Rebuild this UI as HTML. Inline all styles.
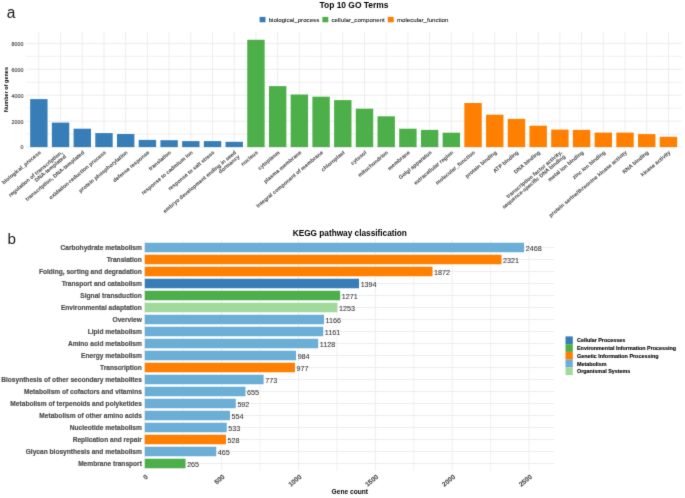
<!DOCTYPE html>
<html><head><meta charset="utf-8"><style>
html,body{margin:0;padding:0;background:#fff;}
svg{display:block;font-family:"Liberation Sans", sans-serif;}
#w{width:685px;height:498px;will-change:transform;}
</style></head><body><div id="w">
<svg width="685" height="498" viewBox="0 0 685 498">
<defs><filter id="bl" x="0" y="0" width="1" height="1" color-interpolation-filters="sRGB"><feConvolveMatrix order="3" kernelMatrix="0.01134 0.08382 0.01134 0.08382 0.61935 0.08382 0.01134 0.08382 0.01134" edgeMode="duplicate" preserveAlpha="true"/></filter></defs>
<g filter="url(#bl)">
<rect width="685" height="498" fill="#fff"/>
<text x="6.70" y="18.00" font-size="15.6" font-weight="normal" fill="#1a1a1a" text-anchor="start" >a</text>
<text x="354.00" y="8.30" font-size="8.45" font-weight="bold" fill="#000" text-anchor="middle" >Top 10 GO Terms</text>
<rect x="259.60" y="16.90" width="5.90" height="5.40" fill="#377eb8"/>
<text x="268.70" y="21.70" font-size="6.15" font-weight="normal" fill="#1a1a1a" text-anchor="start" stroke="#1a1a1a" stroke-width="0.1" >biological_process</text>
<rect x="322.40" y="16.90" width="5.90" height="5.40" fill="#4daf4a"/>
<text x="331.50" y="21.70" font-size="6.15" font-weight="normal" fill="#1a1a1a" text-anchor="start" stroke="#1a1a1a" stroke-width="0.1" >cellular_component</text>
<rect x="387.80" y="16.90" width="5.90" height="5.40" fill="#ff7f00"/>
<text x="396.90" y="21.70" font-size="6.15" font-weight="normal" fill="#1a1a1a" text-anchor="start" stroke="#1a1a1a" stroke-width="0.1" >molecular_function</text>
<line x1="25.80" y1="134.14" x2="681.50" y2="134.14" stroke="#eeeeee" stroke-width="0.8"/>
<line x1="25.80" y1="108.21" x2="681.50" y2="108.21" stroke="#eeeeee" stroke-width="0.8"/>
<line x1="25.80" y1="82.29" x2="681.50" y2="82.29" stroke="#eeeeee" stroke-width="0.8"/>
<line x1="25.80" y1="56.36" x2="681.50" y2="56.36" stroke="#eeeeee" stroke-width="0.8"/>
<line x1="25.80" y1="147.10" x2="681.50" y2="147.10" stroke="#ebebeb" stroke-width="0.9"/>
<line x1="25.80" y1="121.17" x2="681.50" y2="121.17" stroke="#ebebeb" stroke-width="0.9"/>
<line x1="25.80" y1="95.25" x2="681.50" y2="95.25" stroke="#ebebeb" stroke-width="0.9"/>
<line x1="25.80" y1="69.33" x2="681.50" y2="69.33" stroke="#ebebeb" stroke-width="0.9"/>
<line x1="25.80" y1="43.40" x2="681.50" y2="43.40" stroke="#ebebeb" stroke-width="0.9"/>
<line x1="38.85" y1="31.60" x2="38.85" y2="147.40" stroke="#ebebeb" stroke-width="0.9"/>
<line x1="60.56" y1="31.60" x2="60.56" y2="147.40" stroke="#ebebeb" stroke-width="0.9"/>
<line x1="82.27" y1="31.60" x2="82.27" y2="147.40" stroke="#ebebeb" stroke-width="0.9"/>
<line x1="103.98" y1="31.60" x2="103.98" y2="147.40" stroke="#ebebeb" stroke-width="0.9"/>
<line x1="125.69" y1="31.60" x2="125.69" y2="147.40" stroke="#ebebeb" stroke-width="0.9"/>
<line x1="147.40" y1="31.60" x2="147.40" y2="147.40" stroke="#ebebeb" stroke-width="0.9"/>
<line x1="169.11" y1="31.60" x2="169.11" y2="147.40" stroke="#ebebeb" stroke-width="0.9"/>
<line x1="190.82" y1="31.60" x2="190.82" y2="147.40" stroke="#ebebeb" stroke-width="0.9"/>
<line x1="212.53" y1="31.60" x2="212.53" y2="147.40" stroke="#ebebeb" stroke-width="0.9"/>
<line x1="234.24" y1="31.60" x2="234.24" y2="147.40" stroke="#ebebeb" stroke-width="0.9"/>
<line x1="255.95" y1="31.60" x2="255.95" y2="147.40" stroke="#ebebeb" stroke-width="0.9"/>
<line x1="277.66" y1="31.60" x2="277.66" y2="147.40" stroke="#ebebeb" stroke-width="0.9"/>
<line x1="299.37" y1="31.60" x2="299.37" y2="147.40" stroke="#ebebeb" stroke-width="0.9"/>
<line x1="321.08" y1="31.60" x2="321.08" y2="147.40" stroke="#ebebeb" stroke-width="0.9"/>
<line x1="342.79" y1="31.60" x2="342.79" y2="147.40" stroke="#ebebeb" stroke-width="0.9"/>
<line x1="364.50" y1="31.60" x2="364.50" y2="147.40" stroke="#ebebeb" stroke-width="0.9"/>
<line x1="386.21" y1="31.60" x2="386.21" y2="147.40" stroke="#ebebeb" stroke-width="0.9"/>
<line x1="407.92" y1="31.60" x2="407.92" y2="147.40" stroke="#ebebeb" stroke-width="0.9"/>
<line x1="429.63" y1="31.60" x2="429.63" y2="147.40" stroke="#ebebeb" stroke-width="0.9"/>
<line x1="451.34" y1="31.60" x2="451.34" y2="147.40" stroke="#ebebeb" stroke-width="0.9"/>
<line x1="473.05" y1="31.60" x2="473.05" y2="147.40" stroke="#ebebeb" stroke-width="0.9"/>
<line x1="494.76" y1="31.60" x2="494.76" y2="147.40" stroke="#ebebeb" stroke-width="0.9"/>
<line x1="516.47" y1="31.60" x2="516.47" y2="147.40" stroke="#ebebeb" stroke-width="0.9"/>
<line x1="538.18" y1="31.60" x2="538.18" y2="147.40" stroke="#ebebeb" stroke-width="0.9"/>
<line x1="559.89" y1="31.60" x2="559.89" y2="147.40" stroke="#ebebeb" stroke-width="0.9"/>
<line x1="581.60" y1="31.60" x2="581.60" y2="147.40" stroke="#ebebeb" stroke-width="0.9"/>
<line x1="603.31" y1="31.60" x2="603.31" y2="147.40" stroke="#ebebeb" stroke-width="0.9"/>
<line x1="625.02" y1="31.60" x2="625.02" y2="147.40" stroke="#ebebeb" stroke-width="0.9"/>
<line x1="646.73" y1="31.60" x2="646.73" y2="147.40" stroke="#ebebeb" stroke-width="0.9"/>
<line x1="668.44" y1="31.60" x2="668.44" y2="147.40" stroke="#ebebeb" stroke-width="0.9"/>
<text x="23.40" y="149.45" font-size="5.3" font-weight="normal" fill="#4d4d4d" text-anchor="end" stroke="#4d4d4d" stroke-width="0.15" >0</text>
<text x="23.40" y="123.52" font-size="5.3" font-weight="normal" fill="#4d4d4d" text-anchor="end" stroke="#4d4d4d" stroke-width="0.15" >2000</text>
<text x="23.40" y="97.60" font-size="5.3" font-weight="normal" fill="#4d4d4d" text-anchor="end" stroke="#4d4d4d" stroke-width="0.15" >4000</text>
<text x="23.40" y="71.67" font-size="5.3" font-weight="normal" fill="#4d4d4d" text-anchor="end" stroke="#4d4d4d" stroke-width="0.15" >6000</text>
<text x="23.40" y="45.75" font-size="5.3" font-weight="normal" fill="#4d4d4d" text-anchor="end" stroke="#4d4d4d" stroke-width="0.15" >8000</text>
<text x="0.00" y="0.00" font-size="5.5" font-weight="bold" fill="#000" text-anchor="middle" transform="translate(7.6,89.5) rotate(-90)">Number of genes</text>
<rect x="30.15" y="99.10" width="17.40" height="48.00" fill="#377eb8"/>
<rect x="51.86" y="122.60" width="17.40" height="24.50" fill="#377eb8"/>
<rect x="73.57" y="128.70" width="17.40" height="18.40" fill="#377eb8"/>
<rect x="95.28" y="133.10" width="17.40" height="14.00" fill="#377eb8"/>
<rect x="116.99" y="134.00" width="17.40" height="13.10" fill="#377eb8"/>
<rect x="138.70" y="139.90" width="17.40" height="7.20" fill="#377eb8"/>
<rect x="160.41" y="140.20" width="17.40" height="6.90" fill="#377eb8"/>
<rect x="182.12" y="141.10" width="17.40" height="6.00" fill="#377eb8"/>
<rect x="203.83" y="141.10" width="17.40" height="6.00" fill="#377eb8"/>
<rect x="225.54" y="141.80" width="17.40" height="5.30" fill="#377eb8"/>
<rect x="247.25" y="39.80" width="17.40" height="107.30" fill="#4daf4a"/>
<rect x="268.96" y="86.10" width="17.40" height="61.00" fill="#4daf4a"/>
<rect x="290.67" y="94.50" width="17.40" height="52.60" fill="#4daf4a"/>
<rect x="312.38" y="96.70" width="17.40" height="50.40" fill="#4daf4a"/>
<rect x="334.09" y="100.10" width="17.40" height="47.00" fill="#4daf4a"/>
<rect x="355.80" y="108.70" width="17.40" height="38.40" fill="#4daf4a"/>
<rect x="377.51" y="116.30" width="17.40" height="30.80" fill="#4daf4a"/>
<rect x="399.22" y="128.70" width="17.40" height="18.40" fill="#4daf4a"/>
<rect x="420.93" y="129.90" width="17.40" height="17.20" fill="#4daf4a"/>
<rect x="442.64" y="132.70" width="17.40" height="14.40" fill="#4daf4a"/>
<rect x="464.35" y="103.00" width="17.40" height="44.10" fill="#ff7f00"/>
<rect x="486.06" y="114.70" width="17.40" height="32.40" fill="#ff7f00"/>
<rect x="507.77" y="118.90" width="17.40" height="28.20" fill="#ff7f00"/>
<rect x="529.48" y="125.70" width="17.40" height="21.40" fill="#ff7f00"/>
<rect x="551.19" y="129.60" width="17.40" height="17.50" fill="#ff7f00"/>
<rect x="572.90" y="129.90" width="17.40" height="17.20" fill="#ff7f00"/>
<rect x="594.61" y="132.60" width="17.40" height="14.50" fill="#ff7f00"/>
<rect x="616.32" y="132.60" width="17.40" height="14.50" fill="#ff7f00"/>
<rect x="638.03" y="134.10" width="17.40" height="13.00" fill="#ff7f00"/>
<rect x="659.74" y="136.80" width="17.40" height="10.30" fill="#ff7f00"/>
<text x="0.00" y="0.00" font-size="5.4" font-weight="bold" fill="#4d4d4d" text-anchor="end" stroke="#4d4d4d" stroke-width="0.06" transform="translate(41.25,153.10) rotate(-40) translate(0,0.00)">biological_process</text>
<text x="0.00" y="0.00" font-size="5.4" font-weight="bold" fill="#4d4d4d" text-anchor="end" stroke="#4d4d4d" stroke-width="0.06" transform="translate(62.96,153.10) rotate(-40) translate(0,0.00)">regulation of transcription,</text>
<text x="0.00" y="0.00" font-size="5.4" font-weight="bold" fill="#4d4d4d" text-anchor="end" stroke="#4d4d4d" stroke-width="0.06" transform="translate(62.96,153.10) rotate(-40) translate(0,5.40)">DNA-templated</text>
<text x="0.00" y="0.00" font-size="5.4" font-weight="bold" fill="#4d4d4d" text-anchor="end" stroke="#4d4d4d" stroke-width="0.06" transform="translate(84.67,153.10) rotate(-40) translate(0,0.00)">transcription, DNA-templated</text>
<text x="0.00" y="0.00" font-size="5.4" font-weight="bold" fill="#4d4d4d" text-anchor="end" stroke="#4d4d4d" stroke-width="0.06" transform="translate(106.38,153.10) rotate(-40) translate(0,0.00)">oxidation-reduction process</text>
<text x="0.00" y="0.00" font-size="5.4" font-weight="bold" fill="#4d4d4d" text-anchor="end" stroke="#4d4d4d" stroke-width="0.06" transform="translate(128.09,153.10) rotate(-40) translate(0,0.00)">protein phosphorylation</text>
<text x="0.00" y="0.00" font-size="5.4" font-weight="bold" fill="#4d4d4d" text-anchor="end" stroke="#4d4d4d" stroke-width="0.06" transform="translate(149.80,153.10) rotate(-40) translate(0,0.00)">defense response</text>
<text x="0.00" y="0.00" font-size="5.4" font-weight="bold" fill="#4d4d4d" text-anchor="end" stroke="#4d4d4d" stroke-width="0.06" transform="translate(171.51,153.10) rotate(-40) translate(0,0.00)">translation</text>
<text x="0.00" y="0.00" font-size="5.4" font-weight="bold" fill="#4d4d4d" text-anchor="end" stroke="#4d4d4d" stroke-width="0.06" transform="translate(193.22,153.10) rotate(-40) translate(0,0.00)">response to cadmium ion</text>
<text x="0.00" y="0.00" font-size="5.4" font-weight="bold" fill="#4d4d4d" text-anchor="end" stroke="#4d4d4d" stroke-width="0.06" transform="translate(214.93,153.10) rotate(-40) translate(0,0.00)">response to salt stress</text>
<text x="0.00" y="0.00" font-size="5.4" font-weight="bold" fill="#4d4d4d" text-anchor="end" stroke="#4d4d4d" stroke-width="0.06" transform="translate(236.64,153.10) rotate(-40) translate(0,0.00)">embryo development ending in seed</text>
<text x="0.00" y="0.00" font-size="5.4" font-weight="bold" fill="#4d4d4d" text-anchor="end" stroke="#4d4d4d" stroke-width="0.06" transform="translate(236.64,153.10) rotate(-40) translate(0,5.40)">dormancy</text>
<text x="0.00" y="0.00" font-size="5.4" font-weight="bold" fill="#4d4d4d" text-anchor="end" stroke="#4d4d4d" stroke-width="0.06" transform="translate(258.35,153.10) rotate(-40) translate(0,0.00)">nucleus</text>
<text x="0.00" y="0.00" font-size="5.4" font-weight="bold" fill="#4d4d4d" text-anchor="end" stroke="#4d4d4d" stroke-width="0.06" transform="translate(280.06,153.10) rotate(-40) translate(0,0.00)">cytoplasm</text>
<text x="0.00" y="0.00" font-size="5.4" font-weight="bold" fill="#4d4d4d" text-anchor="end" stroke="#4d4d4d" stroke-width="0.06" transform="translate(301.77,153.10) rotate(-40) translate(0,0.00)">plasma membrane</text>
<text x="0.00" y="0.00" font-size="5.4" font-weight="bold" fill="#4d4d4d" text-anchor="end" stroke="#4d4d4d" stroke-width="0.06" transform="translate(323.48,153.10) rotate(-40) translate(0,0.00)">integral component of membrane</text>
<text x="0.00" y="0.00" font-size="5.4" font-weight="bold" fill="#4d4d4d" text-anchor="end" stroke="#4d4d4d" stroke-width="0.06" transform="translate(345.19,153.10) rotate(-40) translate(0,0.00)">chloroplast</text>
<text x="0.00" y="0.00" font-size="5.4" font-weight="bold" fill="#4d4d4d" text-anchor="end" stroke="#4d4d4d" stroke-width="0.06" transform="translate(366.90,153.10) rotate(-40) translate(0,0.00)">cytosol</text>
<text x="0.00" y="0.00" font-size="5.4" font-weight="bold" fill="#4d4d4d" text-anchor="end" stroke="#4d4d4d" stroke-width="0.06" transform="translate(388.61,153.10) rotate(-40) translate(0,0.00)">mitochondrion</text>
<text x="0.00" y="0.00" font-size="5.4" font-weight="bold" fill="#4d4d4d" text-anchor="end" stroke="#4d4d4d" stroke-width="0.06" transform="translate(410.32,153.10) rotate(-40) translate(0,0.00)">membrane</text>
<text x="0.00" y="0.00" font-size="5.4" font-weight="bold" fill="#4d4d4d" text-anchor="end" stroke="#4d4d4d" stroke-width="0.06" transform="translate(432.03,153.10) rotate(-40) translate(0,0.00)">Golgi apparatus</text>
<text x="0.00" y="0.00" font-size="5.4" font-weight="bold" fill="#4d4d4d" text-anchor="end" stroke="#4d4d4d" stroke-width="0.06" transform="translate(453.74,153.10) rotate(-40) translate(0,0.00)">extracellular region</text>
<text x="0.00" y="0.00" font-size="5.4" font-weight="bold" fill="#4d4d4d" text-anchor="end" stroke="#4d4d4d" stroke-width="0.06" transform="translate(475.45,153.10) rotate(-40) translate(0,0.00)">molecular_function</text>
<text x="0.00" y="0.00" font-size="5.4" font-weight="bold" fill="#4d4d4d" text-anchor="end" stroke="#4d4d4d" stroke-width="0.06" transform="translate(497.16,153.10) rotate(-40) translate(0,0.00)">protein binding</text>
<text x="0.00" y="0.00" font-size="5.4" font-weight="bold" fill="#4d4d4d" text-anchor="end" stroke="#4d4d4d" stroke-width="0.06" transform="translate(518.87,153.10) rotate(-40) translate(0,0.00)">ATP binding</text>
<text x="0.00" y="0.00" font-size="5.4" font-weight="bold" fill="#4d4d4d" text-anchor="end" stroke="#4d4d4d" stroke-width="0.06" transform="translate(540.58,153.10) rotate(-40) translate(0,0.00)">DNA binding</text>
<text x="0.00" y="0.00" font-size="5.4" font-weight="bold" fill="#4d4d4d" text-anchor="end" stroke="#4d4d4d" stroke-width="0.06" transform="translate(562.29,153.10) rotate(-40) translate(0,0.00)">transcription factor activity,</text>
<text x="0.00" y="0.00" font-size="5.4" font-weight="bold" fill="#4d4d4d" text-anchor="end" stroke="#4d4d4d" stroke-width="0.06" transform="translate(562.29,153.10) rotate(-40) translate(0,5.40)">sequence-specific DNA binding</text>
<text x="0.00" y="0.00" font-size="5.4" font-weight="bold" fill="#4d4d4d" text-anchor="end" stroke="#4d4d4d" stroke-width="0.06" transform="translate(584.00,153.10) rotate(-40) translate(0,0.00)">metal ion binding</text>
<text x="0.00" y="0.00" font-size="5.4" font-weight="bold" fill="#4d4d4d" text-anchor="end" stroke="#4d4d4d" stroke-width="0.06" transform="translate(605.71,153.10) rotate(-40) translate(0,0.00)">zinc ion binding</text>
<text x="0.00" y="0.00" font-size="5.4" font-weight="bold" fill="#4d4d4d" text-anchor="end" stroke="#4d4d4d" stroke-width="0.06" transform="translate(627.42,153.10) rotate(-40) translate(0,0.00)">protein serine/threonine kinase activity</text>
<text x="0.00" y="0.00" font-size="5.4" font-weight="bold" fill="#4d4d4d" text-anchor="end" stroke="#4d4d4d" stroke-width="0.06" transform="translate(649.13,153.10) rotate(-40) translate(0,0.00)">RNA binding</text>
<text x="0.00" y="0.00" font-size="5.4" font-weight="bold" fill="#4d4d4d" text-anchor="end" stroke="#4d4d4d" stroke-width="0.06" transform="translate(670.84,153.10) rotate(-40) translate(0,0.00)">kinase activity</text>
<text x="7.40" y="244.40" font-size="15.2" font-weight="normal" fill="#1a1a1a" text-anchor="start" >b</text>
<text x="349.80" y="235.90" font-size="8.25" font-weight="bold" fill="#000" text-anchor="middle" >KEGG pathway classification</text>
<line x1="183.22" y1="240.30" x2="183.22" y2="470.70" stroke="#eeeeee" stroke-width="0.8"/>
<line x1="260.07" y1="240.30" x2="260.07" y2="470.70" stroke="#eeeeee" stroke-width="0.8"/>
<line x1="336.91" y1="240.30" x2="336.91" y2="470.70" stroke="#eeeeee" stroke-width="0.8"/>
<line x1="413.76" y1="240.30" x2="413.76" y2="470.70" stroke="#eeeeee" stroke-width="0.8"/>
<line x1="490.60" y1="240.30" x2="490.60" y2="470.70" stroke="#eeeeee" stroke-width="0.8"/>
<line x1="144.80" y1="240.30" x2="144.80" y2="470.70" stroke="#ebebeb" stroke-width="0.9"/>
<line x1="221.65" y1="240.30" x2="221.65" y2="470.70" stroke="#ebebeb" stroke-width="0.9"/>
<line x1="298.49" y1="240.30" x2="298.49" y2="470.70" stroke="#ebebeb" stroke-width="0.9"/>
<line x1="375.34" y1="240.30" x2="375.34" y2="470.70" stroke="#ebebeb" stroke-width="0.9"/>
<line x1="452.18" y1="240.30" x2="452.18" y2="470.70" stroke="#ebebeb" stroke-width="0.9"/>
<line x1="529.02" y1="240.30" x2="529.02" y2="470.70" stroke="#ebebeb" stroke-width="0.9"/>
<line x1="144.80" y1="247.50" x2="554.20" y2="247.50" stroke="#ebebeb" stroke-width="0.9"/>
<line x1="144.80" y1="259.50" x2="554.20" y2="259.50" stroke="#ebebeb" stroke-width="0.9"/>
<line x1="144.80" y1="271.50" x2="554.20" y2="271.50" stroke="#ebebeb" stroke-width="0.9"/>
<line x1="144.80" y1="283.50" x2="554.20" y2="283.50" stroke="#ebebeb" stroke-width="0.9"/>
<line x1="144.80" y1="295.50" x2="554.20" y2="295.50" stroke="#ebebeb" stroke-width="0.9"/>
<line x1="144.80" y1="307.50" x2="554.20" y2="307.50" stroke="#ebebeb" stroke-width="0.9"/>
<line x1="144.80" y1="319.50" x2="554.20" y2="319.50" stroke="#ebebeb" stroke-width="0.9"/>
<line x1="144.80" y1="331.50" x2="554.20" y2="331.50" stroke="#ebebeb" stroke-width="0.9"/>
<line x1="144.80" y1="343.50" x2="554.20" y2="343.50" stroke="#ebebeb" stroke-width="0.9"/>
<line x1="144.80" y1="355.50" x2="554.20" y2="355.50" stroke="#ebebeb" stroke-width="0.9"/>
<line x1="144.80" y1="367.50" x2="554.20" y2="367.50" stroke="#ebebeb" stroke-width="0.9"/>
<line x1="144.80" y1="379.50" x2="554.20" y2="379.50" stroke="#ebebeb" stroke-width="0.9"/>
<line x1="144.80" y1="391.50" x2="554.20" y2="391.50" stroke="#ebebeb" stroke-width="0.9"/>
<line x1="144.80" y1="403.50" x2="554.20" y2="403.50" stroke="#ebebeb" stroke-width="0.9"/>
<line x1="144.80" y1="415.50" x2="554.20" y2="415.50" stroke="#ebebeb" stroke-width="0.9"/>
<line x1="144.80" y1="427.50" x2="554.20" y2="427.50" stroke="#ebebeb" stroke-width="0.9"/>
<line x1="144.80" y1="439.50" x2="554.20" y2="439.50" stroke="#ebebeb" stroke-width="0.9"/>
<line x1="144.80" y1="451.50" x2="554.20" y2="451.50" stroke="#ebebeb" stroke-width="0.9"/>
<line x1="144.80" y1="463.50" x2="554.20" y2="463.50" stroke="#ebebeb" stroke-width="0.9"/>
<rect x="144.80" y="242.75" width="379.31" height="9.50" fill="#6baed6"/>
<text x="525.71" y="250.60" font-size="7.2" font-weight="normal" fill="#333333" text-anchor="start" stroke="#333333" stroke-width="0.05" >2468</text>
<text x="141.90" y="249.80" font-size="6.6" font-weight="bold" fill="#4d4d4d" text-anchor="end" stroke="#4d4d4d" stroke-width="0.18" >Carbohydrate metabolism</text>
<rect x="144.80" y="254.75" width="356.71" height="9.50" fill="#ff7f00"/>
<text x="503.11" y="262.60" font-size="7.2" font-weight="normal" fill="#333333" text-anchor="start" stroke="#333333" stroke-width="0.05" >2321</text>
<text x="141.90" y="261.80" font-size="6.6" font-weight="bold" fill="#4d4d4d" text-anchor="end" stroke="#4d4d4d" stroke-width="0.18" >Translation</text>
<rect x="144.80" y="266.75" width="287.71" height="9.50" fill="#ff7f00"/>
<text x="434.11" y="274.60" font-size="7.2" font-weight="normal" fill="#333333" text-anchor="start" stroke="#333333" stroke-width="0.05" >1872</text>
<text x="141.90" y="273.80" font-size="6.6" font-weight="bold" fill="#4d4d4d" text-anchor="end" stroke="#4d4d4d" stroke-width="0.18" >Folding, sorting and degradation</text>
<rect x="144.80" y="278.75" width="214.24" height="9.50" fill="#377eb8"/>
<text x="360.64" y="286.60" font-size="7.2" font-weight="normal" fill="#333333" text-anchor="start" stroke="#333333" stroke-width="0.05" >1394</text>
<text x="141.90" y="285.80" font-size="6.6" font-weight="bold" fill="#4d4d4d" text-anchor="end" stroke="#4d4d4d" stroke-width="0.18" >Transport and catabolism</text>
<rect x="144.80" y="290.75" width="195.34" height="9.50" fill="#4daf4a"/>
<text x="341.74" y="298.60" font-size="7.2" font-weight="normal" fill="#333333" text-anchor="start" stroke="#333333" stroke-width="0.05" >1271</text>
<text x="141.90" y="297.80" font-size="6.6" font-weight="bold" fill="#4d4d4d" text-anchor="end" stroke="#4d4d4d" stroke-width="0.18" >Signal transduction</text>
<rect x="144.80" y="302.75" width="192.57" height="9.50" fill="#a1d99b"/>
<text x="338.97" y="310.60" font-size="7.2" font-weight="normal" fill="#333333" text-anchor="start" stroke="#333333" stroke-width="0.05" >1253</text>
<text x="141.90" y="309.80" font-size="6.6" font-weight="bold" fill="#4d4d4d" text-anchor="end" stroke="#4d4d4d" stroke-width="0.18" >Environmental adaptation</text>
<rect x="144.80" y="314.75" width="179.20" height="9.50" fill="#6baed6"/>
<text x="325.60" y="322.60" font-size="7.2" font-weight="normal" fill="#333333" text-anchor="start" stroke="#333333" stroke-width="0.05" >1166</text>
<text x="141.90" y="321.80" font-size="6.6" font-weight="bold" fill="#4d4d4d" text-anchor="end" stroke="#4d4d4d" stroke-width="0.18" >Overview</text>
<rect x="144.80" y="326.75" width="178.43" height="9.50" fill="#6baed6"/>
<text x="324.83" y="334.60" font-size="7.2" font-weight="normal" fill="#333333" text-anchor="start" stroke="#333333" stroke-width="0.05" >1161</text>
<text x="141.90" y="333.80" font-size="6.6" font-weight="bold" fill="#4d4d4d" text-anchor="end" stroke="#4d4d4d" stroke-width="0.18" >Lipid metabolism</text>
<rect x="144.80" y="338.75" width="173.36" height="9.50" fill="#6baed6"/>
<text x="319.76" y="346.60" font-size="7.2" font-weight="normal" fill="#333333" text-anchor="start" stroke="#333333" stroke-width="0.05" >1128</text>
<text x="141.90" y="345.80" font-size="6.6" font-weight="bold" fill="#4d4d4d" text-anchor="end" stroke="#4d4d4d" stroke-width="0.18" >Amino acid metabolism</text>
<rect x="144.80" y="350.75" width="151.23" height="9.50" fill="#6baed6"/>
<text x="297.63" y="358.60" font-size="7.2" font-weight="normal" fill="#333333" text-anchor="start" stroke="#333333" stroke-width="0.05" >984</text>
<text x="141.90" y="357.80" font-size="6.6" font-weight="bold" fill="#4d4d4d" text-anchor="end" stroke="#4d4d4d" stroke-width="0.18" >Energy metabolism</text>
<rect x="144.80" y="362.75" width="150.16" height="9.50" fill="#ff7f00"/>
<text x="296.56" y="370.60" font-size="7.2" font-weight="normal" fill="#333333" text-anchor="start" stroke="#333333" stroke-width="0.05" >977</text>
<text x="141.90" y="369.80" font-size="6.6" font-weight="bold" fill="#4d4d4d" text-anchor="end" stroke="#4d4d4d" stroke-width="0.18" >Transcription</text>
<rect x="144.80" y="374.75" width="118.80" height="9.50" fill="#6baed6"/>
<text x="265.20" y="382.60" font-size="7.2" font-weight="normal" fill="#333333" text-anchor="start" stroke="#333333" stroke-width="0.05" >773</text>
<text x="141.90" y="381.80" font-size="6.6" font-weight="bold" fill="#4d4d4d" text-anchor="end" stroke="#4d4d4d" stroke-width="0.18" >Biosynthesis of other secondary metabolites</text>
<rect x="144.80" y="386.75" width="100.67" height="9.50" fill="#6baed6"/>
<text x="247.07" y="394.60" font-size="7.2" font-weight="normal" fill="#333333" text-anchor="start" stroke="#333333" stroke-width="0.05" >655</text>
<text x="141.90" y="393.80" font-size="6.6" font-weight="bold" fill="#4d4d4d" text-anchor="end" stroke="#4d4d4d" stroke-width="0.18" >Metabolism of cofactors and vitamins</text>
<rect x="144.80" y="398.75" width="90.98" height="9.50" fill="#6baed6"/>
<text x="237.38" y="406.60" font-size="7.2" font-weight="normal" fill="#333333" text-anchor="start" stroke="#333333" stroke-width="0.05" >592</text>
<text x="141.90" y="405.80" font-size="6.6" font-weight="bold" fill="#4d4d4d" text-anchor="end" stroke="#4d4d4d" stroke-width="0.18" >Metabolism of terpenoids and polyketides</text>
<rect x="144.80" y="410.75" width="85.14" height="9.50" fill="#6baed6"/>
<text x="231.54" y="418.60" font-size="7.2" font-weight="normal" fill="#333333" text-anchor="start" stroke="#333333" stroke-width="0.05" >554</text>
<text x="141.90" y="417.80" font-size="6.6" font-weight="bold" fill="#4d4d4d" text-anchor="end" stroke="#4d4d4d" stroke-width="0.18" >Metabolism of other amino acids</text>
<rect x="144.80" y="422.75" width="81.92" height="9.50" fill="#6baed6"/>
<text x="228.32" y="430.60" font-size="7.2" font-weight="normal" fill="#333333" text-anchor="start" stroke="#333333" stroke-width="0.05" >533</text>
<text x="141.90" y="429.80" font-size="6.6" font-weight="bold" fill="#4d4d4d" text-anchor="end" stroke="#4d4d4d" stroke-width="0.18" >Nucleotide metabolism</text>
<rect x="144.80" y="434.75" width="81.15" height="9.50" fill="#ff7f00"/>
<text x="227.55" y="442.60" font-size="7.2" font-weight="normal" fill="#333333" text-anchor="start" stroke="#333333" stroke-width="0.05" >528</text>
<text x="141.90" y="441.80" font-size="6.6" font-weight="bold" fill="#4d4d4d" text-anchor="end" stroke="#4d4d4d" stroke-width="0.18" >Replication and repair</text>
<rect x="144.80" y="446.75" width="71.47" height="9.50" fill="#6baed6"/>
<text x="217.87" y="454.60" font-size="7.2" font-weight="normal" fill="#333333" text-anchor="start" stroke="#333333" stroke-width="0.05" >465</text>
<text x="141.90" y="453.80" font-size="6.6" font-weight="bold" fill="#4d4d4d" text-anchor="end" stroke="#4d4d4d" stroke-width="0.18" >Glycan biosynthesis and metabolism</text>
<rect x="144.80" y="458.75" width="40.73" height="9.50" fill="#4daf4a"/>
<text x="187.13" y="466.60" font-size="7.2" font-weight="normal" fill="#333333" text-anchor="start" stroke="#333333" stroke-width="0.05" >265</text>
<text x="141.90" y="465.80" font-size="6.6" font-weight="bold" fill="#4d4d4d" text-anchor="end" stroke="#4d4d4d" stroke-width="0.18" >Membrane transport</text>
<text x="0.00" y="0.00" font-size="6.7" font-weight="bold" fill="#4d4d4d" text-anchor="end" stroke="#4d4d4d" stroke-width="0.15" transform="translate(145.40,474.00) rotate(-40) translate(0,4.6)">0</text>
<text x="0.00" y="0.00" font-size="6.7" font-weight="bold" fill="#4d4d4d" text-anchor="end" stroke="#4d4d4d" stroke-width="0.15" transform="translate(222.25,474.00) rotate(-40) translate(0,4.6)">500</text>
<text x="0.00" y="0.00" font-size="6.7" font-weight="bold" fill="#4d4d4d" text-anchor="end" stroke="#4d4d4d" stroke-width="0.15" transform="translate(299.09,474.00) rotate(-40) translate(0,4.6)">1000</text>
<text x="0.00" y="0.00" font-size="6.7" font-weight="bold" fill="#4d4d4d" text-anchor="end" stroke="#4d4d4d" stroke-width="0.15" transform="translate(375.94,474.00) rotate(-40) translate(0,4.6)">1500</text>
<text x="0.00" y="0.00" font-size="6.7" font-weight="bold" fill="#4d4d4d" text-anchor="end" stroke="#4d4d4d" stroke-width="0.15" transform="translate(452.78,474.00) rotate(-40) translate(0,4.6)">2000</text>
<text x="0.00" y="0.00" font-size="6.7" font-weight="bold" fill="#4d4d4d" text-anchor="end" stroke="#4d4d4d" stroke-width="0.15" transform="translate(529.62,474.00) rotate(-40) translate(0,4.6)">2500</text>
<text x="349.80" y="493.70" font-size="6.65" font-weight="bold" fill="#000" text-anchor="middle" >Gene count</text>
<rect x="565.50" y="336.40" width="7.30" height="7.74" fill="#377eb8"/>
<text x="577.00" y="342.30" font-size="5.4" font-weight="bold" fill="#000" text-anchor="start" stroke="#000" stroke-width="0.12" >Cellular Processes</text>
<rect x="565.50" y="344.14" width="7.30" height="7.74" fill="#4daf4a"/>
<text x="577.00" y="350.04" font-size="5.4" font-weight="bold" fill="#000" text-anchor="start" stroke="#000" stroke-width="0.12" >Environmental Information Processing</text>
<rect x="565.50" y="351.88" width="7.30" height="7.74" fill="#ff7f00"/>
<text x="577.00" y="357.78" font-size="5.4" font-weight="bold" fill="#000" text-anchor="start" stroke="#000" stroke-width="0.12" >Genetic Information Processing</text>
<rect x="565.50" y="359.62" width="7.30" height="7.74" fill="#6baed6"/>
<text x="577.00" y="365.52" font-size="5.4" font-weight="bold" fill="#000" text-anchor="start" stroke="#000" stroke-width="0.12" >Metabolism</text>
<rect x="565.50" y="367.36" width="7.30" height="7.74" fill="#a1d99b"/>
<text x="577.00" y="373.26" font-size="5.4" font-weight="bold" fill="#000" text-anchor="start" stroke="#000" stroke-width="0.12" >Organismal Systems</text>
</g>
</svg></div></body></html>
